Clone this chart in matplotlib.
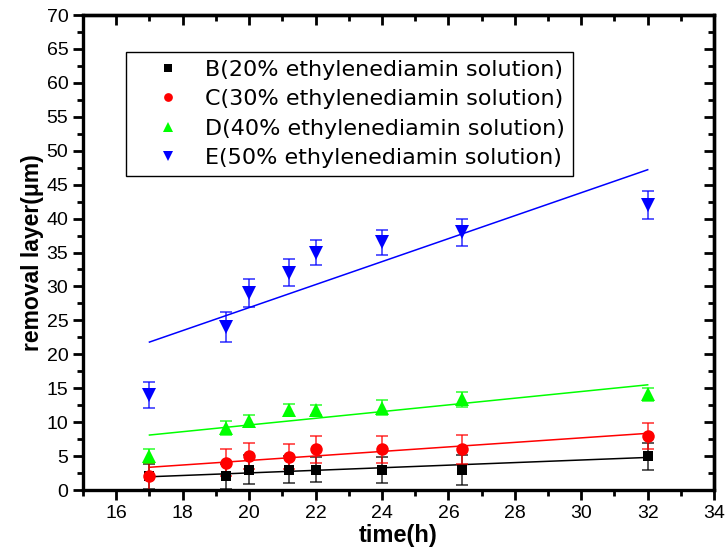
import matplotlib
matplotlib.use("Agg")
import matplotlib.pyplot as plt
from matplotlib.ticker import MultipleLocator

plt.rcParams['font.family'] = ['Liberation Sans', 'DejaVu Sans']

# data
time_h = [17, 19.3, 20, 21.2, 22, 24, 26.4, 32]

layer_B = [2, 2, 3, 3, 3, 3, 3, 5]
err_B = [1.8, 1.8, 2.1, 2.0, 1.8, 1.9, 2.2, 2.0]
layer_C = [2, 4, 5, 4.9, 6, 6, 6, 8]
err_C = [2.0, 2.0, 1.9, 1.85, 2.0, 2.0, 2.1, 1.9]
layer_D = [5, 9.1, 10.2, 11.8, 11.8, 12.1, 13.4, 14.1]
err_D = [1.0, 1.0, 0.9, 0.9, 0.8, 1.1, 1.1, 1.0]
layer_E = [14, 24, 29, 32, 35, 36.5, 38, 42]
err_E = [1.9, 2.2, 2.1, 2.0, 1.8, 1.85, 2.0, 2.1]

# linear fit end points
fit_x = [17, 32]
fit_B = [1.95, 4.8]
fit_C = [3.35, 8.35]
fit_D = [8.1, 15.5]
fit_E = [21.8, 47.2]

labels = ['B(20% ethylenediamin solution)', 'C(30% ethylenediamin solution)',
          'D(40% ethylenediamin solution)', 'E(50% ethylenediamin solution)']

fig = plt.figure(figsize=(7.25, 5.56), dpi=100)
ax = fig.add_axes([0.1145, 0.1187, 0.8705, 0.8543])

series = [
    (layer_B, err_B, fit_B, 'black', 's', 7.5),
    (layer_C, err_C, fit_C, '#ff0000', 'o', 9),
    (layer_D, err_D, fit_D, '#00ff00', '^', 10),
    (layer_E, err_E, fit_E, '#0000ff', 'v', 10),
]

handles = []
for (y, e, f, col, mk, ms), lab in zip(series, labels):
    ax.errorbar(time_h, y, yerr=e, fmt='none', ecolor=col, alpha=0.7,
                elinewidth=1.3, capsize=4, capthick=1.3, zorder=2)
    h, = ax.plot(time_h, y, linestyle='none', marker=mk, color=col,
                 markersize=ms, markeredgewidth=0, label=lab, zorder=3)
    handles.append(h)
    ax.plot(fit_x, f, color=col, linewidth=1.1, zorder=2)

ax.set_xlim(15, 34)
ax.set_ylim(0, 70)
ax.xaxis.set_major_locator(MultipleLocator(2))
ax.xaxis.set_minor_locator(MultipleLocator(1))
ax.yaxis.set_major_locator(MultipleLocator(5))
ax.yaxis.set_minor_locator(MultipleLocator(2.5))

for s in ax.spines.values():
    s.set_linewidth(2.4)

ax.tick_params(which='both', direction='out', width=2, labelsize=14,
               top=False, right=False)
ax.tick_params(which='major', length=7)
ax.tick_params(which='minor', length=4)

# mirrored inward ticks on top and right
sec_x = ax.secondary_xaxis('top')
sec_x.xaxis.set_major_locator(MultipleLocator(2))
sec_x.xaxis.set_minor_locator(MultipleLocator(1))
sec_x.tick_params(which='both', direction='in', width=2, labeltop=False)
sec_x.tick_params(which='major', length=7)
sec_x.tick_params(which='minor', length=4)
sec_y = ax.secondary_yaxis('right')
sec_y.yaxis.set_major_locator(MultipleLocator(5))
sec_y.yaxis.set_minor_locator(MultipleLocator(2.5))
sec_y.tick_params(which='both', direction='in', width=2, labelright=False)
sec_y.tick_params(which='major', length=7)
sec_y.tick_params(which='minor', length=4)
for sx in (sec_x, sec_y):
    for s in sx.spines.values():
        s.set_linewidth(2.4)

ax.set_xlabel('time(h)', fontsize=17, fontweight='bold', labelpad=2)
ax.set_ylabel('removal layer(μm)', fontsize=16.5, fontweight='bold', labelpad=2)

leg = ax.legend(handles=handles, loc='upper left', bbox_to_anchor=(0.068, 0.922),
                prop={'family': 'DejaVu Sans', 'size': 16},
                frameon=True, fancybox=False, edgecolor='black',
                framealpha=1, borderpad=0.35, labelspacing=0.42,
                handletextpad=0.12, handlelength=3.1, borderaxespad=0,
                markerscale=0.7)
leg.get_frame().set_linewidth(1.0)

fig.savefig('out.png', dpi=100)
